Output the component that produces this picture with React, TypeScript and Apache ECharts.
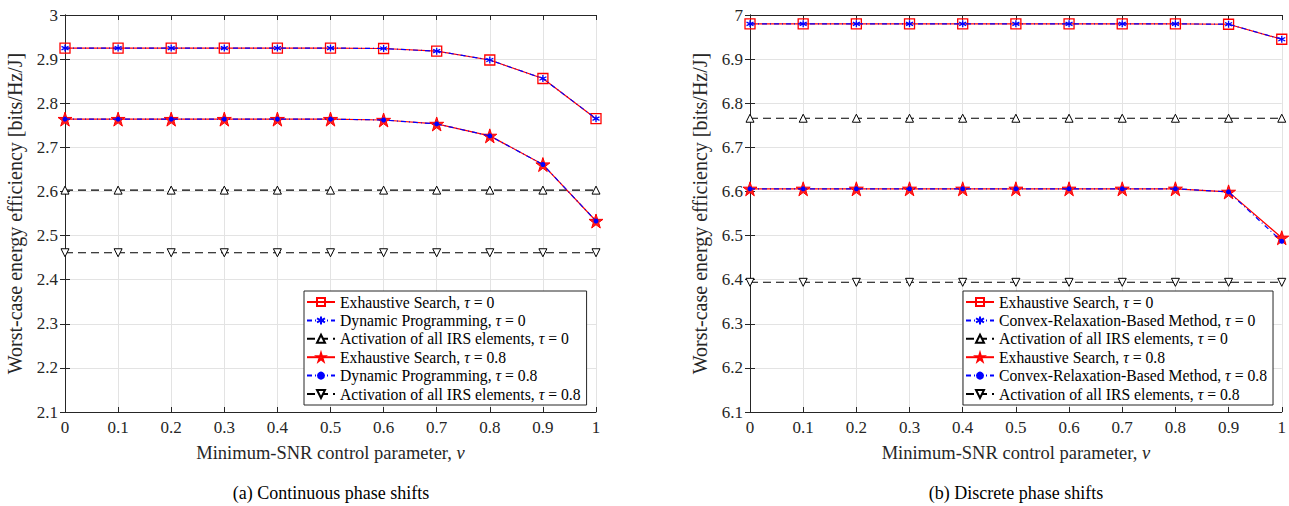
import React, { useEffect, useRef } from "react";
import * as echarts from "echarts";

const nuValues = [0, 0.1, 0.2, 0.3, 0.4, 0.5, 0.6, 0.7, 0.8, 0.9, 1];

// (a) Continuous phase shifts
const contExhaustive0 = [2.925, 2.925, 2.925, 2.925, 2.925, 2.925, 2.924, 2.918, 2.898, 2.856, 2.765];
const contDP0 = [2.925, 2.925, 2.925, 2.925, 2.925, 2.925, 2.924, 2.918, 2.898, 2.856, 2.765];
const contAll0 = [2.603, 2.603, 2.603, 2.603, 2.603, 2.603, 2.603, 2.603, 2.603, 2.603, 2.603];
const contExhaustive08 = [2.764, 2.764, 2.764, 2.764, 2.764, 2.764, 2.762, 2.753, 2.726, 2.661, 2.533];
const contDP08 = [2.764, 2.764, 2.764, 2.764, 2.764, 2.764, 2.762, 2.753, 2.726, 2.661, 2.533];
const contAll08 = [2.461, 2.461, 2.461, 2.461, 2.461, 2.461, 2.461, 2.461, 2.461, 2.461, 2.461];

// (b) Discrete phase shifts
const discExhaustive0 = [6.98, 6.98, 6.98, 6.98, 6.98, 6.98, 6.98, 6.98, 6.98, 6.979, 6.945];
const discCR0 = [6.98, 6.98, 6.98, 6.98, 6.98, 6.98, 6.98, 6.98, 6.98, 6.979, 6.945];
const discAll0 = [6.766, 6.766, 6.766, 6.766, 6.766, 6.766, 6.766, 6.766, 6.766, 6.766, 6.766];
const discExhaustive08 = [6.606, 6.606, 6.606, 6.606, 6.606, 6.606, 6.606, 6.606, 6.606, 6.599, 6.495];
const discCR08 = [6.606, 6.606, 6.606, 6.606, 6.606, 6.606, 6.606, 6.606, 6.606, 6.599, 6.487];
const discAll08 = [6.394, 6.394, 6.394, 6.394, 6.394, 6.394, 6.394, 6.394, 6.394, 6.394, 6.394];

const namesA = [
  "Exhaustive Search, τ = 0",
  "Dynamic Programming, τ = 0",
  "Activation of all IRS elements, τ = 0",
  "Exhaustive Search, τ = 0.8",
  "Dynamic Programming, τ = 0.8",
  "Activation of all IRS elements, τ = 0.8",
];
const namesB = [
  "Exhaustive Search, τ = 0 ",
  "Convex-Relaxation-Based Method, τ = 0",
  "Activation of all IRS elements, τ = 0 ",
  "Exhaustive Search, τ = 0.8 ",
  "Convex-Relaxation-Based Method, τ = 0.8",
  "Activation of all IRS elements, τ = 0.8 ",
];

const yTitle = "Worst-case energy efficiency [bits/Hz/J]";
const xTitle = "Minimum-SNR control parameter, ";
const captionA = "(a) Continuous phase shifts";
const captionB = "(b) Discrete phase shifts";

const FONT = "'Liberation Serif', 'Times New Roman', serif";
const STAR =
  "path://M0,-10L2.245,-3.09L9.511,-3.09L3.633,1.18L5.878,8.09L0,3.82L-5.878,8.09L-3.633,1.18L-9.511,-3.09L-2.245,-3.09Z";
const ASTER = "path://M0,-5L0,5M-4.33,-2.5L4.33,2.5M-4.33,2.5L4.33,-2.5";

function zip(ys: number[]) {
  return nuValues.map((x, i) => [x, ys[i]]);
}

function buildSeries(names: string[], data: number[][], xi: number, yi: number) {
  const base = { type: "line", xAxisIndex: xi, yAxisIndex: yi, z: 3 };
  return [
    {
      ...base,
      name: names[0],
      data: zip(data[0]),
      symbol: "rect",
      symbolSize: 10,
      lineStyle: { color: "#ff0000", width: 1.2, type: "solid" },
      itemStyle: { color: "rgba(255,255,255,0)", borderColor: "#ff0000", borderWidth: 1.3 },
    },
    {
      ...base,
      name: names[1],
      data: zip(data[1]),
      symbol: ASTER,
      symbolSize: 7,
      z: 4,
      lineStyle: { color: "#0000ff", width: 1.2, type: [5, 3, 1, 3] },
      itemStyle: { color: "#0000ff", borderColor: "#0000ff", borderWidth: 1.3 },
    },
    {
      ...base,
      name: names[2],
      data: zip(data[2]),
      symbol: "triangle",
      symbolSize: 8,
      lineStyle: { color: "#000000", width: 1.1, type: [8, 5] },
      itemStyle: { color: "#ffffff", borderColor: "#000000", borderWidth: 1 },
    },
    {
      ...base,
      name: names[3],
      data: zip(data[3]),
      symbol: STAR,
      symbolSize: 14,
      lineStyle: { color: "#ff0000", width: 1.2, type: "solid" },
      itemStyle: { color: "#ff2020", borderColor: "#ff0000", borderWidth: 1 },
    },
    {
      ...base,
      name: names[4],
      data: zip(data[4]),
      symbol: "circle",
      symbolSize: 5,
      z: 4,
      lineStyle: { color: "#0000ff", width: 1.2, type: [5, 3, 1, 3] },
      itemStyle: { color: "#0000ff" },
    },
    {
      ...base,
      name: names[5],
      data: zip(data[5]),
      symbol: "triangle",
      symbolRotate: 180,
      symbolSize: 8,
      lineStyle: { color: "#000000", width: 1.1, type: [8, 5] },
      itemStyle: { color: "#ffffff", borderColor: "#000000", borderWidth: 1 },
    },
  ];
}

const labelColor = "#262626";
const fmt = (v: number) => String(Number(v.toFixed(2)));

function mainX(gi: number) {
  return {
    type: "value",
    gridIndex: gi,
    position: "bottom",
    min: 0,
    max: 1,
    interval: 0.1,
    name: xTitle + "{i|ν}",
    nameLocation: "middle",
    nameGap: 31,
    nameTextStyle: {
      fontFamily: FONT,
      fontSize: 18.5,
      color: labelColor,
      rich: { i: { fontFamily: FONT, fontStyle: "italic", fontSize: 18.5, color: labelColor } },
    },
    axisLine: { show: true, lineStyle: { color: "#262626", width: 1 } },
    axisTick: { show: true, inside: true, length: 5, lineStyle: { color: "#262626" } },
    axisLabel: { formatter: fmt, fontFamily: FONT, fontSize: 17, color: labelColor, margin: 7 },
    splitLine: { show: true, lineStyle: { color: "#e3e3e3", width: 1 } },
  };
}
function topX(gi: number) {
  return {
    type: "value",
    gridIndex: gi,
    position: "top",
    min: 0,
    max: 1,
    interval: 0.1,
    axisLine: { show: true, lineStyle: { color: "#262626", width: 1 } },
    axisTick: { show: true, inside: true, length: 5, lineStyle: { color: "#262626" } },
    axisLabel: { show: false },
    splitLine: { show: false },
  };
}
function mainY(gi: number, min: number, max: number) {
  return {
    type: "value",
    gridIndex: gi,
    position: "left",
    min,
    max,
    interval: 0.1,
    name: yTitle,
    nameLocation: "middle",
    nameGap: 40,
    nameRotate: 90,
    nameTextStyle: { fontFamily: FONT, fontSize: 20, color: labelColor },
    axisLine: { show: true, lineStyle: { color: "#262626", width: 1 } },
    axisTick: { show: true, inside: true, length: 5, lineStyle: { color: "#262626" } },
    axisLabel: { formatter: fmt, fontFamily: FONT, fontSize: 17, color: labelColor, margin: 7 },
    splitLine: { show: true, lineStyle: { color: "#e3e3e3", width: 1 } },
  };
}
function rightY(gi: number, min: number, max: number) {
  return {
    type: "value",
    gridIndex: gi,
    position: "right",
    min,
    max,
    interval: 0.1,
    axisLine: { show: true, lineStyle: { color: "#262626", width: 1 } },
    axisTick: { show: true, inside: true, length: 5, lineStyle: { color: "#262626" } },
    axisLabel: { show: false },
    splitLine: { show: false },
  };
}

function legendFor(names: string[], left: number) {
  return {
    show: true,
    data: names,
    orient: "vertical",
    left,
    bottom: 101,
    itemWidth: 28,
    itemHeight: 10,
    itemGap: 2.4,
    padding: [3, 6, 3, 2],
    backgroundColor: "#ffffff",
    borderColor: "#262626",
    borderWidth: 1,
    borderRadius: 0,
    selectedMode: false,
    formatter: (n: string) => n.trim().replace("τ", "{i|τ}"),
    textStyle: {
      fontFamily: FONT,
      fontSize: 15.7,
      color: "#000",
      rich: { i: { fontFamily: FONT, fontStyle: "italic", fontSize: 15.7, color: "#000" } },
    },
  };
}

export default function App() {
  const ref = useRef<HTMLDivElement>(null);
  useEffect(() => {
    if (!ref.current) return;
    const chart = echarts.init(ref.current, null, { renderer: "svg" });
    const option = {
      animation: false,
      backgroundColor: "#ffffff",
      textStyle: { fontFamily: FONT },
      grid: [
        { left: 65, top: 15, width: 531, height: 397, show: false },
        { left: 750, top: 15, width: 532, height: 397, show: false },
      ],
      xAxis: [mainX(0), topX(0), mainX(1), topX(1)],
      yAxis: [mainY(0, 2.1, 3), rightY(0, 2.1, 3), mainY(1, 6.1, 7), rightY(1, 6.1, 7)],
      legend: [legendFor(namesA, 304), legendFor(namesB, 963)],
      series: [
        ...buildSeries(namesA, [contExhaustive0, contDP0, contAll0, contExhaustive08, contDP08, contAll08], 0, 0),
        ...buildSeries(namesB, [discExhaustive0, discCR0, discAll0, discExhaustive08, discCR08, discAll08], 2, 2),
      ],
      graphic: [
        {
          type: "text",
          x: 331,
          y: 493,
          style: { text: captionA, fontFamily: FONT, fontSize: 18, fill: "#000", align: "center", verticalAlign: "middle" },
        },
        {
          type: "text",
          x: 1016,
          y: 493,
          style: { text: captionB, fontFamily: FONT, fontSize: 18, fill: "#000", align: "center", verticalAlign: "middle" },
        },
      ],
    };
    chart.setOption(option as any);
    return () => chart.dispose();
  }, []);
  return (
    <div
      ref={ref}
      style={{ position: "absolute", left: 0, top: 0, width: 1289, height: 506, background: "#fff" }}
    />
  );
}
